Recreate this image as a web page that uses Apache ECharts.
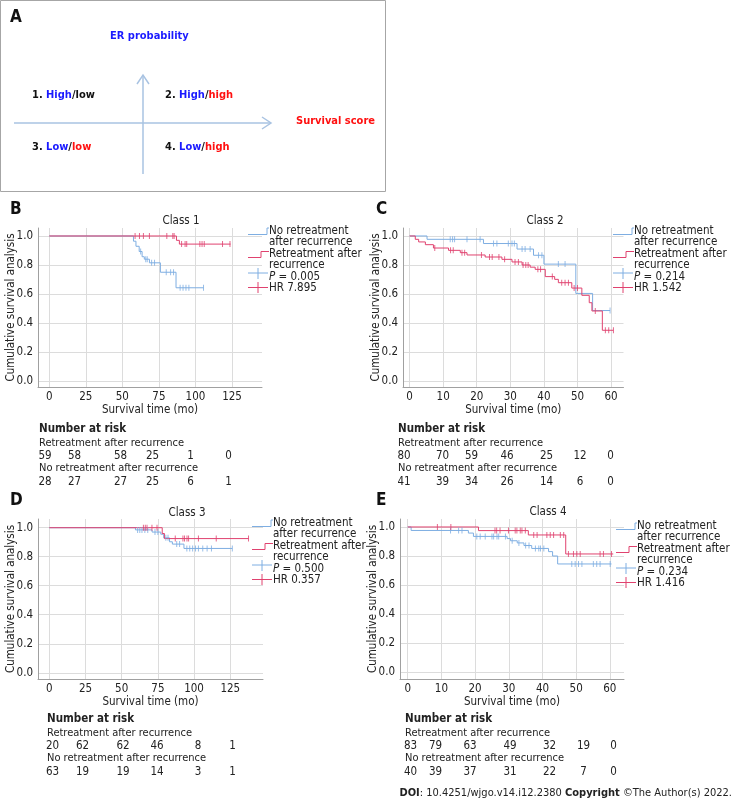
<!DOCTYPE html>
<html>
<head>
<meta charset="utf-8">
<script src="https://cdn.jsdelivr.net/npm/echarts@6/dist/echarts.min.js"></script>
<style>
html, body { margin: 0; padding: 0; background: #fff; }
#main { width: 733px; height: 799px; }
</style>
</head>
<body>
<div id="main"></div>
<script>
// ---- data ----
const classNames = ['Class 1', 'Class 2', 'Class 3', 'Class 4'];
const pValues = ['0.005', '0.214', '0.500', '0.234'];
const hrValues = ['7.895', '1.542', '0.357', '1.416'];
const ticks1 = [0, 25, 50, 75, 100, 125];
const ticks2 = [0, 10, 20, 30, 40, 50, 60];
const yTicks = [0, 0.2, 0.4, 0.6, 0.8, 1.0];

// Class 1
const kmRetreat1 = [[0, 1], [87, 0.97], [89, 0.944], [124, 0.944]];
const censorRetreat1 = [[58.7, 1], [61.7, 1], [64.4, 1], [68.5, 1], [80.4, 1], [84.5, 1], [85.4, 1], [90.5, 0.944], [92.9, 0.944], [94, 0.944], [103, 0.944], [104.5, 0.944], [106, 0.944], [118.5, 0.944], [123.6, 0.944]];
const kmNoRetreat1 = [[0, 1], [57.6, 0.964], [59.3, 0.929], [61.5, 0.893], [63.5, 0.857], [65, 0.84], [68.5, 0.815], [76, 0.75], [86.7, 0.643], [105.5, 0.643]];
const censorNoRetreat1 = [[62.5, 0.893], [66, 0.84], [67, 0.84], [70, 0.815], [72, 0.815], [80, 0.75], [83, 0.75], [85, 0.75], [89.5, 0.643], [91.5, 0.643], [93.5, 0.643], [95.5, 0.643], [105.5, 0.643]];

// Class 2
const kmRetreat2 = [[0, 1], [1.7, 0.977], [2.7, 0.959], [4.7, 0.94], [7.1, 0.917], [11.6, 0.901], [15.1, 0.885], [17.1, 0.869], [22.5, 0.855], [27.5, 0.839], [30.5, 0.821], [33.5, 0.8], [35.9, 0.785], [37.4, 0.77], [40.4, 0.72], [43.2, 0.701], [44.3, 0.678], [48.3, 0.641], [51.3, 0.591], [53.5, 0.54], [54.3, 0.483], [57.4, 0.35], [60.7, 0.35]];
const censorRetreat2 = [[7.5, 0.917], [12.2, 0.901], [13, 0.901], [15.6, 0.885], [16.4, 0.885], [21.4, 0.869], [23.8, 0.855], [24.6, 0.855], [26.6, 0.855], [28.3, 0.839], [31.4, 0.821], [32.4, 0.821], [33.8, 0.8], [34.6, 0.8], [35.3, 0.8], [38.2, 0.77], [39, 0.77], [42.5, 0.72], [45.3, 0.678], [46.3, 0.678], [47.3, 0.678], [49, 0.641], [50, 0.641], [55.3, 0.483], [58.3, 0.35], [59.3, 0.35], [60.7, 0.35]];
const kmNoRetreat2 = [[0, 1], [5.2, 0.977], [22, 0.948], [32, 0.91], [36.9, 0.867], [40, 0.806], [49.5, 0.604], [54.5, 0.486], [59.7, 0.486]];
const censorNoRetreat2 = [[12.1, 0.977], [12.8, 0.977], [13.4, 0.977], [17.1, 0.977], [21, 0.977], [25, 0.948], [26, 0.948], [29.4, 0.948], [30.5, 0.948], [31.2, 0.948], [33.5, 0.91], [34.4, 0.91], [35.9, 0.91], [38.4, 0.867], [39.4, 0.867], [44.3, 0.806], [46.3, 0.806], [59.7, 0.486]];

// Class 3
const kmRetreat3 = [[0, 1], [78, 0.96], [79.5, 0.925], [137.7, 0.925]];
const censorRetreat3 = [[65, 1], [66.3, 1], [67.5, 1], [70.9, 1], [74.4, 1], [87, 0.925], [92.3, 0.925], [93.4, 0.925], [95.1, 0.925], [96.2, 0.925], [103, 0.925], [115.3, 0.925], [137.6, 0.925]];
const kmNoRetreat3 = [[0, 1], [59.5, 0.985], [71, 0.97], [77, 0.955], [79, 0.93], [83, 0.903], [85, 0.887], [93, 0.857], [126.4, 0.857]];
const censorNoRetreat3 = [[61, 0.985], [62.5, 0.985], [64, 0.985], [66, 0.985], [68, 0.985], [73, 0.97], [75, 0.97], [80.5, 0.93], [82, 0.93], [88, 0.887], [90, 0.887], [95, 0.857], [97, 0.857], [99, 0.857], [101, 0.857], [103, 0.857], [106, 0.857], [109, 0.857], [112, 0.857], [126.4, 0.857]];

// Class 4
const kmRetreat4 = [[0, 1], [21, 0.975], [35.8, 0.945], [46.9, 0.814], [61, 0.814]];
const censorRetreat4 = [[8.8, 1], [12.8, 1], [25.9, 0.975], [26.4, 0.975], [27.4, 0.975], [29.9, 0.975], [31.9, 0.975], [32.4, 0.975], [33.4, 0.975], [33.9, 0.975], [34.9, 0.975], [37.4, 0.945], [38.4, 0.945], [41.3, 0.945], [42.3, 0.945], [43.3, 0.945], [45.3, 0.945], [46.3, 0.945], [47.7, 0.814], [49.2, 0.814], [50.2, 0.814], [51.2, 0.814], [57.1, 0.814], [58.1, 0.814], [60.5, 0.814]];
const kmNoRetreat4 = [[0, 1], [1, 0.976], [18, 0.958], [19.5, 0.935], [29.5, 0.92], [30.5, 0.905], [32.5, 0.89], [34.5, 0.872], [36.8, 0.852], [41.8, 0.83], [43, 0.8], [44.5, 0.745], [60.5, 0.745]];
const censorNoRetreat4 = [[12.7, 0.976], [15.1, 0.976], [16.1, 0.976], [20.5, 0.935], [21.5, 0.935], [23, 0.935], [25, 0.935], [25.5, 0.935], [26.5, 0.935], [27, 0.935], [29, 0.935], [31, 0.905], [33, 0.89], [35, 0.872], [36, 0.872], [37.9, 0.852], [38.9, 0.852], [39.4, 0.852], [40.4, 0.852], [48.7, 0.745], [49.7, 0.745], [50.7, 0.745], [51.7, 0.745], [55.1, 0.745], [56.1, 0.745], [57.1, 0.745], [60.1, 0.745]];

// numbers at risk
const riskRetreat1 = [59, 58, 58, 25, 1, 0];
const riskNoRetreat1 = [28, 27, 27, 25, 6, 1];
const riskRetreat2 = [80, 70, 59, 46, 25, 12, 0];
const riskNoRetreat2 = [41, 39, 34, 26, 14, 6, 0];
const riskRetreat3 = [20, 62, 62, 46, 8, 1];
const riskNoRetreat3 = [63, 19, 19, 14, 3, 1];
const riskRetreat4 = [83, 79, 63, 49, 32, 19, 0];
const riskNoRetreat4 = [40, 39, 37, 31, 22, 7, 0];

// ---- layout ----
const FONT = '"DejaVu Sans Condensed", "DejaVu Sans", sans-serif';
const BLUE = '#7eaee2';
const RED = '#e0426f';
const TXT = '#222';

const panels = [
    { letter: 'B', lx: 10, grid: { left: 38, top: 228, width: 224, height: 159 }, x: [-7.7, 145.5], y: [-0.041, 1.055], ticks: ticks1,
      title: [181, 221], km: [kmNoRetreat1, kmRetreat1], cen: [censorNoRetreat1, censorRetreat1],
      leg: [248, 231], risk: [riskRetreat1, riskNoRetreat1], riskX: 39, riskY: 429, cols: [45, 74.5, 120.5, 152.5, 190.5, 228.5] },
    { letter: 'C', lx: 376, grid: { left: 403, top: 228, width: 220.5, height: 159 }, x: [-1.96, 63.7], y: [-0.041, 1.055], ticks: ticks2,
      title: [545, 221], km: [kmNoRetreat2, kmRetreat2], cen: [censorNoRetreat2, censorRetreat2],
      leg: [613, 231], risk: [riskRetreat2, riskNoRetreat2], riskX: 398, riskY: 429, cols: [404, 442.5, 471.5, 507, 546.5, 580, 610.5] },
    { letter: 'D', lx: 10, grid: { left: 38, top: 519, width: 225, height: 160 }, x: [-7.8, 147.6], y: [-0.043, 1.06], ticks: ticks1,
      title: [187, 513], km: [kmNoRetreat3, kmRetreat3], cen: [censorNoRetreat3, censorRetreat3],
      leg: [252, 523], risk: [riskRetreat3, riskNoRetreat3], riskX: 47, riskY: 719, cols: [52.5, 82.5, 123, 157, 198, 232.5] },
    { letter: 'E', lx: 376, grid: { left: 400, top: 519, width: 224, height: 160 }, x: [-2.3, 64.2], y: [-0.048, 1.055], ticks: ticks2,
      title: [548, 512], km: [kmNoRetreat4, kmRetreat4], cen: [censorNoRetreat4, censorRetreat4],
      leg: [616, 526], risk: [riskRetreat4, riskNoRetreat4], riskX: 405, riskY: 719, cols: [410.5, 435.5, 470, 510, 549.5, 583.5, 613.5] }
];

const grids = [], xAxes = [], yAxes = [], series = [], graphics = [];

const txt = (x, y, text, style) => ({
    type: 'text', x, y, silent: true,
    style: Object.assign({ text, font: '11px ' + FONT, fill: TXT, verticalAlign: 'middle' }, style || {})
});
const line = (pts, color, w) => ({
    type: 'polyline', silent: true, shape: { points: pts },
    style: { stroke: color, lineWidth: w || 1, fill: null }
});

panels.forEach((p, i) => {
    grids.push(Object.assign({ containLabel: false }, p.grid));
    xAxes.push({
        type: 'value', gridIndex: i, min: p.x[0], max: p.x[1],
        name: 'Survival time (mo)', nameLocation: 'middle', nameGap: 17, nameMoveOverlap: false,
        nameTextStyle: { fontFamily: FONT, fontSize: 11.5, color: TXT },
        axisLine: { onZero: false, lineStyle: { color: '#a0a0a0' } },
        axisTick: { show: false, customValues: p.ticks },
        axisLabel: { customValues: p.ticks, fontFamily: FONT, fontSize: 11.5, color: TXT, margin: 4 },
        splitLine: { show: true, lineStyle: { color: '#dcdcdc' } }
    });
    yAxes.push({
        type: 'value', gridIndex: i, min: p.y[0], max: p.y[1],
        name: 'Cumulative survival analysis', nameLocation: 'middle', nameGap: 21, nameMoveOverlap: false,
        nameTextStyle: { fontFamily: FONT, fontSize: 11.5, color: TXT },
        axisLine: { show: true, onZero: false, lineStyle: { color: '#a0a0a0' } },
        axisTick: { show: false, customValues: yTicks },
        axisLabel: { customValues: yTicks, fontFamily: FONT, fontSize: 11.5, color: TXT, margin: 5,
                     formatter: v => v.toFixed(1) },
        splitLine: { show: true, lineStyle: { color: '#dcdcdc' } }
    });
    [BLUE, RED].forEach((c, k) => {
        series.push({
            type: 'line', step: 'end', xAxisIndex: i, yAxisIndex: i, data: p.km[k],
            symbol: 'none', lineStyle: { color: c, width: 1 }, silent: true, z: 3
        });
        series.push({
            type: 'scatter', xAxisIndex: i, yAxisIndex: i, data: p.cen[k],
            symbol: 'rect', symbolSize: [1, 6], itemStyle: { color: c }, silent: true, z: 4
        });
    });

    // panel letter and title
    graphics.push(txt(p.lx, p.grid.top - 18, p.letter, { font: 'bold 17px ' + FONT, fill: '#111' }));
    graphics.push(txt(p.title[0], p.title[1], classNames[i], { font: '11.5px ' + FONT, align: 'center' }));

    // legend (SPSS style)
    const [lx, ly] = p.leg;
    graphics.push(line([[lx, ly + 3.5], [lx + 19, ly + 3.5], [lx + 19, ly - 3], [lx + 21, ly - 3]], BLUE));
    graphics.push(line([[lx, ly + 26.5], [lx + 13, ly + 26.5], [lx + 13, ly + 20.5], [lx + 21, ly + 20.5]], RED));
    graphics.push(line([[lx, ly + 42], [lx + 20, ly + 42]], BLUE));
    graphics.push(line([[lx + 10, ly + 37], [lx + 10, ly + 48]], BLUE));
    graphics.push(line([[lx, ly + 56.5], [lx + 20, ly + 56.5]], RED));
    graphics.push(line([[lx + 10, ly + 51], [lx + 10, ly + 62]], RED));
    const tx = lx + 21, f = '11px ' + FONT, lf = '11.5px ' + FONT;
    ['No retreatment', 'after recurrence', 'Retreatment after', 'recurrence'].forEach((s, k) => {
        graphics.push(txt(tx, ly + [0, 11, 23, 34][k], s, { font: lf }));
    });
    graphics.push(txt(tx, ly + 46, '{i|P} = ' + pValues[i], {
        font: lf, rich: { i: { font: 'italic ' + lf, fill: TXT } }
    }));
    graphics.push(txt(tx, ly + 57, 'HR ' + hrValues[i], { font: lf }));

    // number at risk
    graphics.push(txt(p.riskX, p.riskY, 'Number at risk', { font: 'bold 11.5px ' + FONT }));
    graphics.push(txt(p.riskX, p.riskY + 14, 'Retreatment after recurrence', { font: f }));
    graphics.push(txt(p.riskX, p.riskY + 39, 'No retreatment after recurrence', { font: f }));
    p.risk.forEach((row, r) => {
        row.forEach((v, c) => {
            graphics.push(txt(p.cols[c], p.riskY + (r ? 53 : 27), String(v), { font: lf, align: 'center' }));
        });
    });
});

// ---- panel A ----
const AB = '#a9c3e2';
graphics.push({ type: 'rect', silent: true, shape: { x: 0.5, y: 0.5, width: 385, height: 191 },
                style: { fill: null, stroke: '#a6a6a6', lineWidth: 1 } });
graphics.push(txt(10, 18, 'A', { font: 'bold 17px ' + FONT, fill: '#111' }));
graphics.push(line([[143, 174], [143, 75]], AB, 1.5));
graphics.push(line([[137, 84], [143, 75], [149, 84]], AB, 1.5));
graphics.push(line([[14, 123], [271, 123]], AB, 1.5));
graphics.push(line([[262, 117], [271, 123], [262, 129]], AB, 1.5));
const AF = 'bold 11px ' + FONT;
const aRich = { b: { font: AF, fill: '#1a1aff' }, r: { font: AF, fill: '#ff1010' }, k: { font: AF, fill: '#111' } };
graphics.push(txt(110, 36, 'ER probability', { font: AF, fill: '#1a1aff' }));
graphics.push(txt(296, 121, 'Survival score', { font: AF, fill: '#ff1010' }));
graphics.push(txt(32, 95, '{k|1. }{b|High}{k|/low}', { font: AF, rich: aRich }));
graphics.push(txt(165, 95, '{k|2. }{b|High}{k|/}{r|high}', { font: AF, rich: aRich }));
graphics.push(txt(32, 147, '{k|3. }{b|Low}{k|/}{r|low}', { font: AF, rich: aRich }));
graphics.push(txt(165, 147, '{k|4. }{b|Low}{k|/}{r|high}', { font: AF, rich: aRich }));

// footer
graphics.push(txt(732, 793, '{b|DOI}: 10.4251/wjgo.v14.i12.2380 {b|Copyright} \u00A9The Author(s) 2022.', {
    font: '11px ' + FONT, align: 'right', rich: { b: { font: 'bold 11px ' + FONT, fill: TXT } }
}));

const chart = echarts.init(document.getElementById('main'));
chart.setOption({
    animation: false,
    grid: grids,
    xAxis: xAxes,
    yAxis: yAxes,
    series: series,
    graphic: graphics
});
</script>
</body>
</html>
